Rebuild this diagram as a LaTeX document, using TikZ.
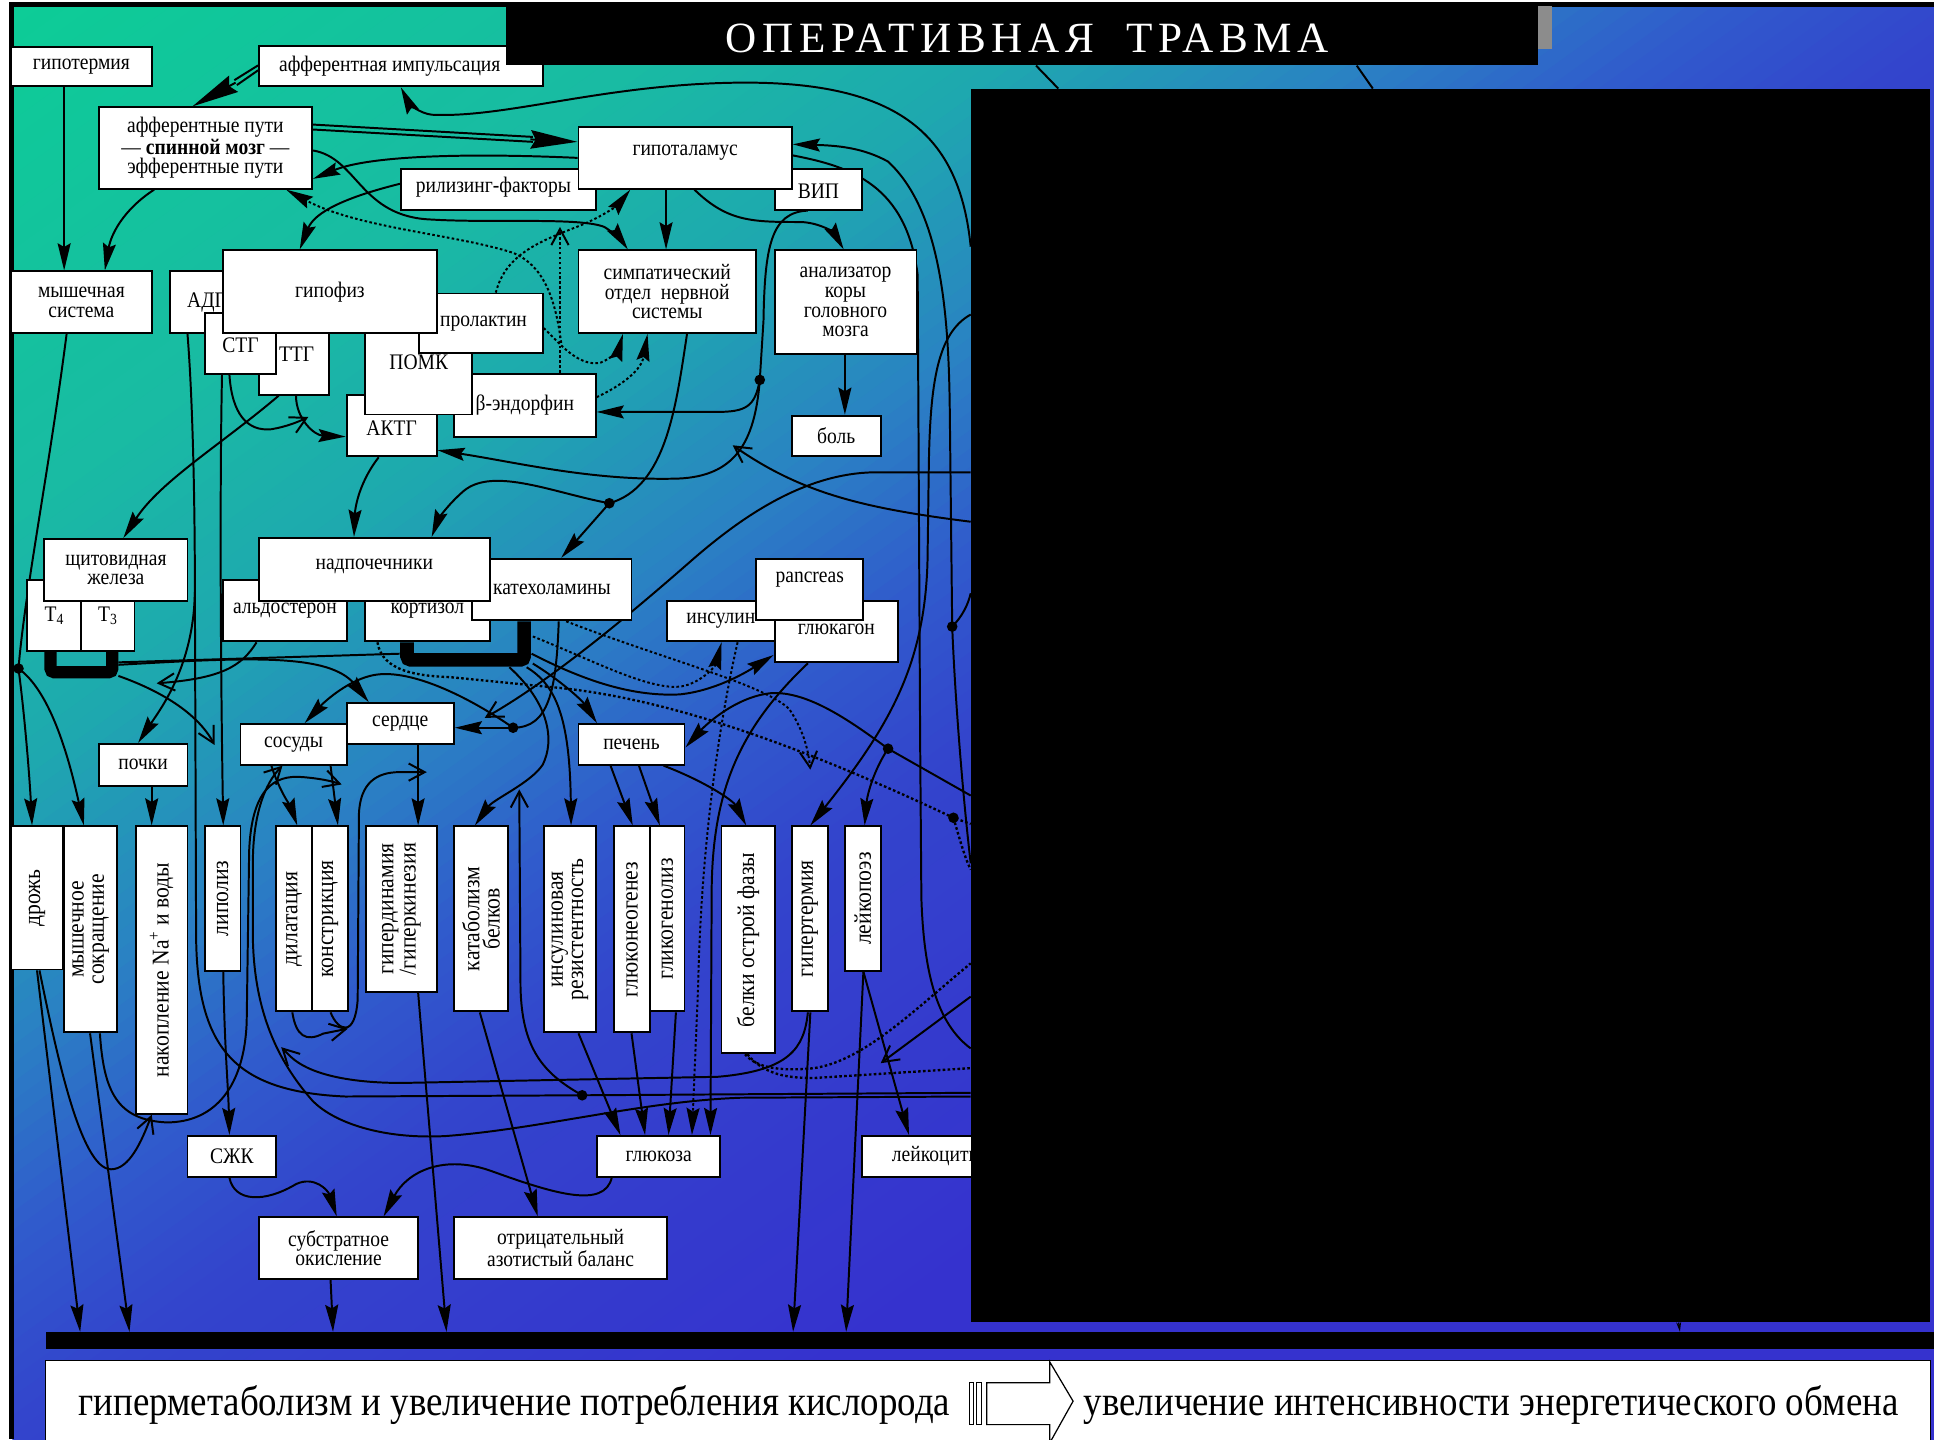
\documentclass[tikz,border=0pt]{standalone}
\usepackage{fontspec}
\setmainfont{Liberation Serif}
\newfontfamily\bxf{Liberation Serif}[FakeStretch=0.88]
\newfontfamily\vxf{Liberation Serif}[FakeStretch=0.9]
\newfontfamily\ttlf{Liberation Serif}[LetterSpace=13]
\usetikzlibrary{arrows.meta}

\pgfdeclarelayer{bg}
\pgfdeclarelayer{lines}
\pgfdeclarelayer{top}
\pgfsetlayers{bg,lines,main,top}

\definecolor{g0}{RGB}{12,205,150}
\definecolor{g1}{RGB}{25,187,163}
\definecolor{g2}{RGB}{30,168,175}
\definecolor{g3}{RGB}{42,130,195}
\definecolor{g4}{RGB}{48,92,204}
\definecolor{g5}{RGB}{51,68,204}
\definecolor{g6}{RGB}{53,50,206}

\tikzset{
  box/.style={draw=black, fill=white, line width=1.5pt, inner sep=0pt},
  lbl/.style={inner sep=0pt, align=center, font=\bxf\fontsize{18}{16}\selectfont},
  vlbl/.style={inner sep=0pt, align=center, rotate=90, font=\vxf\fontsize{19.5}{16.5}\selectfont},
  ln/.style={line width=1.6pt, draw=black},
  fa/.style={ln, -{Stealth[length=22pt,width=10.5pt,inset=3pt]}},
  bigfa/.style={ln, -{Stealth[length=38pt,width=15pt,inset=4pt]}},
  oa/.style={ln, -{Straight Barb[length=13pt,width=14pt,line width=1.6pt]}},
  dt/.style={line width=1.9pt, line cap=butt, dash pattern=on 2.1pt off 1.9pt},
}

% box with label; #1 = label shift
\newcommand\bx[7][]{%
  \node[box, minimum width={(#5-#3)*1pt}, minimum height={(#6-#4)*1pt}] (#2) at ({(#3+#5)/2},{(#4+#6)/2}) {};
  \node[lbl,#1] (#2-t) at (#2.center) {#7};}
% box with vertical label
\newcommand\vbx[6]{%
  \node[box, minimum width={(#4-#2)*1pt}, minimum height={(#5-#3)*1pt}] (#1) at ({(#2+#4)/2},{(#3+#5)/2}) {};
  \node[vlbl] (#1-t) at (#1.center) {#6};}
\newcommand\jdot[1]{\fill (#1) circle[radius=4.3pt];}

\begin{document}
\begin{tikzpicture}[x=1pt,y=-1pt]
\useasboundingbox (0,0) rectangle (1568,1167);

% ---------- background ----------
\begin{pgfonlayer}{bg}
\fill[white] (0,0) rectangle (1568,1167);
\begin{scope}
\clip (10,5) rectangle (1568,1167);
\foreach \i in {0,...,159}{%
  \pgfmathsetmacro\ca{\i*15}%
  \pgfmathsetmacro\cb{\i*15+16}%
  \pgfmathsetmacro\tv{(\i*15+7.5)/1060}%
  \pgfmathtruncatemacro\seg{(\tv>=0.4)+(\tv>=0.6)+(\tv>=0.8)+(\tv>=0.95)+(\tv>=1.1)}%
  \ifcase\seg
    \pgfmathtruncatemacro\pp{100*(1-\tv/0.4)}\colorlet{bc}{g0!\pp!g1}%
  \or
    \pgfmathtruncatemacro\pp{100*(1-(\tv-0.4)/0.2)}\colorlet{bc}{g1!\pp!g2}%
  \or
    \pgfmathtruncatemacro\pp{100*(1-(\tv-0.6)/0.2)}\colorlet{bc}{g2!\pp!g3}%
  \or
    \pgfmathtruncatemacro\pp{100*(1-(\tv-0.8)/0.15)}\colorlet{bc}{g3!\pp!g4}%
  \or
    \pgfmathtruncatemacro\pp{100*(1-(\tv-0.95)/0.15)}\colorlet{bc}{g4!\pp!g5}%
  \else
    \pgfmathtruncatemacro\pp{max(0,100*(1-(\tv-1.1)/0.4))}\colorlet{bc}{g5!\pp!g6}%
  \fi
  \fill[bc] (-10,{\ca+7.2}) -- (1600,{\ca-1152}) -- (1600,{\cb-1152}) -- (-10,{\cb+7.2}) -- cycle;
}
\end{scope}
\fill[black] (7,2) rectangle (1568,5.5);
\fill[black] (7,2) rectangle (11,1167);
\end{pgfonlayer}

% ---------- boxes ----------
\bx{hypotherm}{9}{38}{123}{70}{гипотермия}
\bx[xshift=-9pt]{affimp}{210}{37}{440}{70}{афферентная импульсация}
\bx{affpath}{80}{87}{253}{153}{афферентные пути\\— \textbf{спинной мозг} —\\эфферентные пути}
\bx{muscsys}{9}{220}{123}{270}{мышечная\\система}
\bx[xshift=-4pt,yshift=2pt]{rel}{325}{137}{483}{170}{рилизинг-факторы}
\bx[yshift=-1.5pt]{vip}{628}{137}{699}{170}{ВИП}
\bx[yshift=4pt]{hypoth}{469}{103}{642}{153}{гипоталамус}
\bx{symp}{469}{203}{613}{270}{симпатический\\отдел\ \ нервной\\системы}
\bx{anal}{628}{203}{743}{287}{анализатор\\коры\\головного\\мозга}
\bx{pain}{642}{337}{714}{370}{боль}
\bx[xshift=8pt]{adh}{138}{220}{181}{270}{АДГ}
\bx[xshift=2pt,yshift=8pt]{tsh}{210}{270}{267}{320}{ТТГ}
\bx[yshift=-1.5pt]{stg}{166}{254}{224}{303}{СТГ}
\bx[yshift=-2pt]{acth}{281}{320}{354}{370}{АКТГ}
\bx{bend}{368}{303}{483}{354}{β-эндорфин}
\bx[yshift=9pt]{pomc}{296}{270}{383}{336}{ПОМК}
\bx[xshift=2pt]{prol}{340}{238}{440}{286}{пролактин}
\bx{hypoph}{181}{203}{354}{270}{гипофиз}
\bx{tfour}{22}{470}{66}{528}{T\textsubscript{4}}
\bx{tthree}{66}{470}{109}{528}{T\textsubscript{3}}
\bx{thyr}{36}{437}{152}{487}{щитовидная\\железа}
\bx{aldo}{181}{470}{281}{520}{альдостерон}
\bx{cort}{296}{470}{397}{520}{кортизол}
\bx{cat}{383}{453}{512}{503}{катехоламины}
\bx[yshift=2pt]{adren}{210}{436}{397}{487}{надпочечники}
\bx{insul}{541}{487}{628}{520}{инсулин}
\bx[yshift=2pt]{gluc}{628}{487}{728}{537}{глюкагон}
\bx[yshift=8pt]{pancr}{613}{453}{700}{503}{pancreas}
\bx{vess}{195}{587}{281}{620}{сосуды}
\bx{heart}{281}{570}{368}{603}{сердце}
\bx{kidney}{80}{603}{152}{637}{почки}
\bx{liver}{469}{587}{555}{620}{печень}

\vbx{shiver}{9}{670}{51}{786}{дрожь}
\vbx{musccon}{52}{670}{95}{837}{мышечное\\сокращение}
\vbx{nacc}{110}{670}{152}{903}{накопление Na\textsuperscript{+} и воды}
\vbx{lipol}{166}{670}{195}{787}{липолиз}
\vbx{dilat}{224}{670}{253}{820}{дилатация}
\vbx{constr}{253}{670}{282}{820}{констрикция}
\vbx{hyperdyn}{297}{670}{354}{804}{гипердинамия\\/гиперкинезия}
\vbx{catab}{368}{670}{412}{820}{катаболизм\\белков}
\vbx{insres}{441}{670}{483}{837}{инсулиновая\\резистентность}
\vbx{glneo}{498}{670}{527}{837}{глюконеогенез}
\vbx{glgen}{527}{670}{555}{820}{гликогенолиз}
\vbx{apr}{585}{670}{628}{854}{белки острой фазы}
\vbx{hypert}{642}{670}{671}{820}{гипертермия}
\vbx{leukop}{685}{670}{714}{787}{лейкопоэз}

\bx{ffa}{152}{921}{224}{954}{СЖК}
\bx{glucose}{484}{921}{584}{954}{глюкоза}
\bx[xshift=10pt]{leukoc}{699}{921}{800}{954}{лейкоциты}
\bx{substr}{210}{987}{339}{1037}{субстратное\\окисление}
\bx{nitro}{368}{987}{541}{1037}{отрицательный\\азотистый баланс}

% ---------- covering panels ----------
\begin{pgfonlayer}{top}
\node[fill=black, inner sep=0pt, minimum width=778pt, minimum height=1000pt] (blackbox) at (1176,572) {};
\node[fill=black, inner sep=0pt, minimum width=837pt, minimum height=48pt] (title) at (828.5,29) {};
\node[text=white, inner sep=0pt, font=\ttlf\fontsize{35}{35}\selectfont] (title-t) at (833,31) {ОПЕРАТИВНАЯ\ \ ТРАВМА};
\fill[black!45] (1247,5) rectangle (1258,40);
\node[fill=black, inner sep=0pt, minimum width=1531pt, minimum height=14pt] (bar) at (802.5,1087) {};
\node[draw=black, fill=white, line width=1.3pt, inner sep=0pt, minimum width=1528pt, minimum height=77pt] (bottombox) at (801,1141.5) {};
\node[lbl, font=\bxf\fontsize{34}{34}\selectfont] (res-a) at (417,1139) {гиперметаболизм и увеличение потребления кислорода};
\node[lbl, font=\bxf\fontsize{34}{34}\selectfont] (res-b) at (1209,1139) {увеличение интенсивности энергетического обмена};
\draw[fill=white, line width=1pt] (786,1121) rectangle (789,1155);
\draw[fill=white, line width=1pt] (792,1121) rectangle (796,1155);
\draw[fill=white, line width=1pt] (800,1121) -- (851,1121) -- (851,1104) -- (870,1136) -- (851,1170) -- (851,1155) -- (800,1155) -- cycle;
\end{pgfonlayer}

% ---------- connectors ----------
\begin{pgfonlayer}{lines}
% top level
\draw[fa] (hypotherm.south -| 52,0) -- (muscsys.north -| 52,0);
\draw[ln] (affimp.west |- 0,53) -- (190,65);
\draw[ln] (affimp.west |- 0,57) -- (192,69);
\draw[bigfa] (191,67) -- (affpath.north -| 156,0);
\draw[fa] (787,200) .. controls (778,110) and (730,66) .. (600,67) .. controls (490,68) and (410,96) .. (350,93) .. controls (340,92) and (331,83) .. (affimp.south -| 325,0);
\draw[ln] (affpath.east |- 0,101) -- (432,111);
\draw[ln] (affpath.east |- 0,105) -- (432,115);
\draw[bigfa] (430,113) -- (hypoth.west |- 0,115);
\draw[fa] (hypoth.west |- 0,128) .. controls (380,124) and (300,126) .. (affpath.east |- 0,145);
\draw[fa] (affpath.east |- 0,122) .. controls (290,128) and (292,176) .. (350,178) .. controls (400,181) and (470,176) .. (490,184) .. controls (498,189) and (504,195) .. (symp.north -| 509,0);
\draw[fa] (rel.west |- 0,149) .. controls (280,160) and (255,172) .. (hypoph.north -| 243,0);
\draw[fa] (affpath.south -| 125,0) .. controls (100,170) and (90,190) .. (muscsys.north -| 85,0);
% dotted hormone links
\coordinate (dj) at (455,278);
\draw[dt,fa] (prol.east |- 0,266) .. controls (452,276) and (468,298) .. (487,294) .. controls (497,290) and (502,282) .. (symp.south -| 505,0);
\draw[dt,fa] (dj) .. controls (450,240) and (440,215) .. (416,205) .. controls (370,190) and (290,185) .. (affpath.south -| 232,0);
\draw[dt,fa] (prol.north -| 402,0) .. controls (410,205) and (440,195) .. (470,183) .. controls (490,175) and (502,165) .. (hypoth.south -| 511,0);
\coordinate (bup) at (454,184);
\draw[dt,oa] (bend.north -| 454,0) -- (bup);
\draw[dt,fa] (bend.east |- 0,322) .. controls (505,312) and (520,300) .. (symp.south -| 525,0);
\draw[fa] (hypoth.south -| 540,0) -- (symp.north -| 540,0);
\draw[fa] (hypoth.south -| 563,0) .. controls (590,180) and (610,180) .. (650,180) .. controls (667,181) and (677,190) .. (anal.north -| 684,0);
\draw[fa] (anal.south -| 685,0) -- (pain.north -| 685,0);
% VIP
\coordinate (d1) at (616,308);
\draw[ln] (vip.south -| 655,0) .. controls (625,172) and (620,200) .. (619,260) -- (d1);
\draw[fa] (d1) .. controls (612,330) and (605,334) .. (580,334) -- (bend.east |- 0,334);
\draw[fa] (d1) .. controls (612,360) and (595,386) .. (550,388) .. controls (480,390) and (420,375) .. (acth.east |- 0,365);
\jdot{d1}
\coordinate (oa1) at (594,361);
\draw[oa] (787,423) .. controls (700,412) and (650,400) .. (oa1);
% hypophysis outputs
\draw[fa] (tsh.south -| 226,0) .. controls (180,360) and (130,390) .. (thyr.north -| 100,0);
\draw[oa] (stg.south -| 186,0) .. controls (188,335) and (200,350) .. (220,348) .. controls (232,346) and (242,342) .. (250,338);
\draw[fa] (tsh.south -| 240,0) .. controls (240,340) and (255,353) .. (acth.west |- 0,354);
\coordinate (d3) at (472,888);
\draw[ln] (adh.south -| 152,0) .. controls (156,320) and (158,400) .. (158,480) -- (159,760) .. controls (160,850) and (190,885) .. (280,889) -- (d3) -- (787,886);
\draw[fa] (158,480) .. controls (157,540) and (130,575) .. (kidney.north -| 112,0);
\draw[fa] (stg.south -| 180,0) .. controls (178,400) and (179,550) .. (lipol.north -| 181,0);
\draw[fa] (acth.south -| 307,0) .. controls (292,390) and (288,410) .. (adren.north -| 287,0);
% sympathetic to adrenals
\coordinate (d2) at (494,408);
\draw[ln] (symp.south -| 557,0) .. controls (548,330) and (540,395) .. (d2);
\draw[fa] (d2) .. controls (450,400) and (400,378) .. (376,398) .. controls (362,410) and (355,422) .. (adren.north -| 350,0);
\draw[fa] (d2) -- (cat.north -| 455,0);
\jdot{d2}
\coordinate (oa2) at (393,582);
\draw[oa] (787,383) -- (706,383) .. controls (650,385) and (600,420) .. (560,455) .. controls (520,490) and (450,550) .. (oa2);
% catecholamines to heart and vessels
\coordinate (d4) at (416,590);
\draw[ln] (cat.south -| 453,0) .. controls (451,560) and (445,590) .. (d4);
\draw[fa] (d4) -- (heart.east |- 0,590);
\draw[fa] (d4) .. controls (380,565) and (330,540) .. (300,548) .. controls (280,553) and (262,570) .. (vess.north -| 247,0);
\jdot{d4}
% hormone brackets
\draw[line width=10pt, rounded corners=3pt] (tfour.south -| 41,0) -- (41,545) -- (91,545) -- (tthree.south -| 91,0);
\draw[line width=11pt, rounded corners=3pt] (cort.south -| 330,0) -- (330,535) -- (425,535) -- (cat.south -| 425,0);
\coordinate (tb) at (96,537);
\coordinate (kb) at (324,530);
\draw[ln] (tb) -- (kb);
\draw[fa] (96,539) .. controls (200,533) and (262,530) .. (285,552) -- (heart.north -| 299,0);
\draw[oa] (96,548) .. controls (130,560) and (160,578) .. (174,604);
\draw[oa] (aldo.south -| 208,0) .. controls (196,540) and (180,550) .. (127,554);
\draw[fa] (431,530) .. controls (470,550) and (510,565) .. (551,563) .. controls (580,560) and (605,545) .. (gluc.west |- 0,531);
\draw[dt,oa] (cat.south -| 459,0) .. controls (540,535) and (620,555) .. (640,575) .. controls (650,590) and (655,605) .. (657,624);
\draw[dt,fa] (432,516) .. controls (480,535) and (530,562) .. (555,556) .. controls (570,552) and (580,540) .. (insul.south -| 585,0);
\coordinate (d5) at (720,607);
\draw[ln] (787,645) -- (d5);
\draw[fa] (d5) .. controls (690,585) and (655,560) .. (625,562) .. controls (595,565) and (570,590) .. (liver.east |- 0,606);
\draw[fa] (d5) .. controls (708,625) and (703,645) .. (leukop.north -| 701,0);
\jdot{d5}
\coordinate (d6) at (773,663);
\draw[dt] (cort.south -| 306,0) .. controls (310,545) and (340,548) .. (365,549) -- (446,557) .. controls (540,565) and (650,605) .. (d6) -- (787,668);
\draw[dt] (d6) .. controls (778,680) and (782,695) .. (787,705);
\jdot{d6}
\draw[fa] (413,541) .. controls (445,570) and (450,600) .. (440,620) .. controls (430,635) and (400,648) .. (catab.north -| 385,0);
\draw[fa] (427,541) .. controls (450,555) and (462,580) .. (insres.north -| 463,0);
\draw[fa] (432,538) .. controls (455,552) and (472,568) .. (liver.north -| 484,0);
\draw[oa] (d3) .. controls (440,870) and (423,850) .. (422,800) -- (421,640);
\jdot{d3}
% organs to effects
\draw[fa] (vess.south -| 220,0) .. controls (226,640) and (236,655) .. (dilat.north -| 241,0);
\draw[fa] (vess.south -| 268,0) -- (constr.north -| 274,0);
\draw[fa] (heart.south -| 339,0) -- (hyperdyn.north -| 339,0);
\draw[fa] (kidney.south -| 123,0) -- (nacc.north -| 123,0);
\draw[fa] (liver.south -| 495,0) -- (glneo.north -| 513,0);
\draw[fa] (liver.south -| 518,0) -- (glgen.north -| 535,0);
\draw[fa] (liver.south -| 538,0) .. controls (575,635) and (595,650) .. (apr.north -| 605,0);
\coordinate (d7) at (15,542);
\draw[ln] (muscsys.south -| 54,0) .. controls (40,380) and (20,480) .. (d7);
\draw[fa] (d7) .. controls (20,580) and (24,630) .. (shiver.north -| 26,0);
\draw[fa] (d7) .. controls (40,560) and (55,610) .. (musccon.north -| 68,0);
\jdot{d7}
\draw[fa] (shiver.south -| 30,0) -- (bar.north -| 65,0);
\draw[fa] (musccon.south -| 73,0) -- (bar.north -| 105,0);
\draw[oa] (shiver.south -| 32,0) .. controls (45,850) and (65,948) .. (90,948) .. controls (105,948) and (115,925) .. (nacc.south -| 123,0);
\draw[oa] (musccon.south -| 81,0) .. controls (84,885) and (95,908) .. (135,910) .. controls (175,910) and (198,880) .. (200,829) -- (202,690) .. controls (204,640) and (222,628) .. (245,630) .. controls (258,631) and (268,633) .. (277,636);
\draw[oa] (787,889) -- (600,890) .. controls (520,893) and (440,915) .. (362,921) .. controls (310,924) and (270,910) .. (253,892) .. controls (225,860) and (206,820) .. (205,760) -- (205,700) .. controls (205,660) and (215,635) .. (vess.south -| 229,0);
\coordinate (oa3) at (228,849);
\draw[oa] (hypert.south -| 655,0) .. controls (652,850) and (640,868) .. (582,873) -- (326,878) .. controls (280,878) and (250,870) .. (236,857) -- (oa3);
\draw[oa] (dilat.south -| 237,0) .. controls (240,840) and (248,845) .. (262,838) -- (282,834);
\draw[oa] (constr.south -| 268,0) .. controls (274,836) and (288,842) .. (290,810) -- (291,660) .. controls (292,635) and (305,626) .. (324,626) -- (346,626);
\draw[fa] (lipol.south -| 181,0) .. controls (182,850) and (185,880) .. (ffa.north -| 186,0);
\draw[fa] (ffa.south -| 186,0) .. controls (190,975) and (215,975) .. (240,960) .. controls (255,953) and (266,965) .. (substr.north -| 273,0);
\draw[fa] (glucose.south -| 496,0) .. controls (490,980) and (450,968) .. (400,950) .. controls (360,935) and (330,950) .. (substr.north -| 311,0);
\draw[fa] (catab.south -| 389,0) -- (nitro.north -| 436,0);
\draw[fa] (hyperdyn.south -| 339,0) -- (bar.north -| 362,0);
\draw[fa] (substr.south -| 268,0) -- (bar.north -| 270,0);
\draw[fa] (insres.south -| 469,0) -- (glucose.north -| 503,0);
\draw[fa] (glneo.south -| 512,0) -- (glucose.north -| 523,0);
\draw[fa] (glgen.south -| 548,0) -- (glucose.north -| 542,0);
\draw[dt,fa] (insul.south -| 598,0) .. controls (580,600) and (568,700) .. (566,800) -- (glucose.north -| 561,0);
\draw[fa] (gluc.south -| 655,0) .. controls (600,590) and (578,640) .. (577,720) -- (glucose.north -| 576,0);
\draw[fa] (leukop.south -| 700,0) -- (leukoc.north -| 737,0);
\draw[fa] (leukop.south -| 700,0) -- (bar.north -| 686,0);
\draw[fa] (hypert.south -| 657,0) -- (bar.north -| 643,0);
\coordinate (oa4) at (714,862);
\draw[oa] (787,808) -- (oa4);
\draw[dt] (apr.south -| 604,0) .. controls (615,868) and (640,868) .. (660,866) .. controls (700,860) and (740,820) .. (787,781);
\draw[dt] (apr.south -| 606,0) .. controls (620,872) and (640,874) .. (660,874) -- (787,866);
% long lines along the right panel
\draw[fa] (787,255) .. controls (760,270) and (754,310) .. (753,380) -- (752,454) .. controls (750,540) and (720,590) .. (hypert.north -| 657,0);
\coordinate (d8) at (772,508);
\draw[fa] (787,700) .. controls (780,640) and (774,560) .. (d8) -- (770,330) .. controls (769,250) and (762,170) .. (720,131) .. controls (700,120) and (680,118) .. (hypoth.east |- 0,117);
\draw[ln] (d8) .. controls (780,500) and (785,490) .. (787,481);
\jdot{d8}
\draw[ln] (hypoth.east |- 0,126) .. controls (690,135) and (735,150) .. (744,223) -- (746,600) -- (747,728) .. controls (749,790) and (760,830) .. (787,850);
% title and panel links
\draw[ln] (title.south -| 840,0) -- (blackbox.north -| 858,0);
\draw[ln] (title.south -| 1100,0) -- (blackbox.north -| 1113,0);
\draw[line width=1pt, -{Stealth[length=8pt,width=4pt]}] (blackbox.south -| 1361,0) -- (bar.north -| 1362,0);
\end{pgfonlayer}
\end{tikzpicture}
\end{document}
